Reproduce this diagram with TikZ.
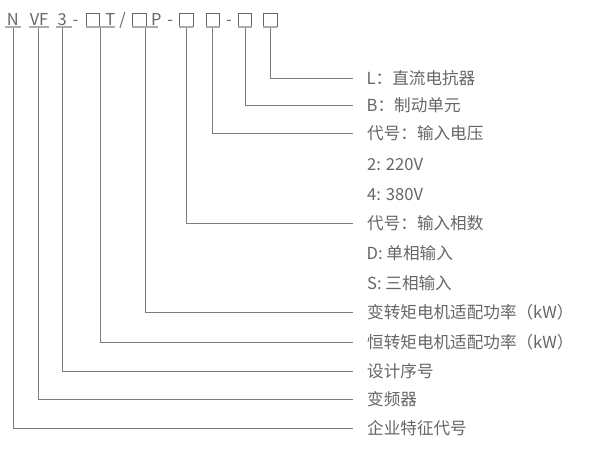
\documentclass[tikz,border=0pt]{standalone}
\usepackage{fontspec}
\setmainfont{Noto Sans CJK SC}
\definecolor{txt}{HTML}{666666}
\definecolor{ln}{HTML}{7C7C7C}
\definecolor{ul}{HTML}{ABABAB}
\begin{document}
\begin{tikzpicture}[x=1pt,y=-1pt,
  lbl/.style={font=\fontsize{16.6}{16.6}\selectfont, text=txt, inner sep=0pt, anchor=base west},
  code/.style={font=\fontsize{16.4}{16.4}\selectfont, text=txt, inner sep=0pt, anchor=base},
  sq/.style={draw=txt, line width=0.8pt, inner sep=0pt, minimum width=13.5pt, minimum height=13pt},
  uline/.style={draw=ul, line width=1.8pt},
  conn/.style={draw=ln, line width=1pt}]
\useasboundingbox (0,0) rectangle (599,455);
% code row
\node[code] (cN) at (12.8,25.7) {N};
\node[code] (cVF) at (39,25.7) {VF};
\node[code] (c3) at (62.3,25.7) {3};
\node[code] (d1) at (75.5,25.7) {-};
\node[sq] (b1) at (92.8,20) {};
\node[code] (cT) at (110.3,25.7) {T};
\node[code] (sl) at (122.5,25.7) {/};
\node[sq] (b2) at (139.4,20) {};
\node[code] (cP) at (156.3,25.7) {P};
\node[code] (d2) at (170.3,25.7) {-};
\node[sq] (b3) at (186.3,20) {};
\node[sq] (b4) at (212.8,20) {};
\node[code] (d3) at (229,25.7) {-};
\node[sq] (b5) at (245,20) {};
\node[sq] (b6) at (270.3,20) {};
% underlines
\draw[uline] (5,27.3) -- (20.5,27.3);
\draw[uline] (29.3,27.3) -- (48.5,27.3);
\draw[uline] (56,27.3) -- (71.7,27.3);
\draw[uline] (86,27.3) -- (115,27.3);
\draw[uline] (132,27.3) -- (158,27.3);
\draw[uline] (179.3,27.3) -- (193.3,27.3);
\draw[uline] (206,27.3) -- (219.5,27.3);
\draw[uline] (238.3,27.3) -- (251.7,27.3);
\draw[uline] (263.3,27.3) -- (277.3,27.3);
% start coordinates
\coordinate (s1) at (13.3,28);
\coordinate (s2) at (38.5,28);
\coordinate (s3) at (62.7,28);
\coordinate (s4) at (100.3,28);
\coordinate (s5) at (145.7,28);
\coordinate (s6) at (186.5,28);
\coordinate (s7) at (212.8,28);
\coordinate (s8) at (245.3,28);
\coordinate (s9) at (270.5,28);
% end coordinates
\coordinate (e9) at (353,78.3);
\coordinate (e8) at (353,105.7);
\coordinate (e7) at (353,133.3);
\coordinate (e6) at (353,223.3);
\coordinate (e5) at (353,312.7);
\coordinate (e4) at (353,342.7);
\coordinate (e3) at (353,371.7);
\coordinate (e2) at (353,399);
\coordinate (e1) at (353,428.3);
\foreach \i in {1,...,9} {\draw[conn] (s\i) |- (e\i);}
% labels
\node[lbl] (tL) at (366.5,84.3) {L：直流电抗器};
\node[lbl] (tB) at (366.5,111.7) {B：制动单元};
\node[lbl] (tV) at (367,139.3) {代号：输入电压};
\node[lbl] (t2) at (367,170) {2: 220V};
\node[lbl] (t4) at (367,200) {4: 380V};
\node[lbl] (tX) at (367,229.3) {代号：输入相数};
\node[lbl] (tD) at (366.5,259.5) {D: 单相输入};
\node[lbl] (tS) at (367,289) {S: 三相输入};
\node[lbl] (tVT) at (367,318.7) {变转矩电机适配功率（kW）};
\node[lbl] (tCT) at (367,348.7) {恒转矩电机适配功率（kW）};
\node[lbl] (tSN) at (367,377.7) {设计序号};
\node[lbl] (tF) at (367,405) {变频器};
\node[lbl] (tE) at (367,434.3) {企业特征代号};
\end{tikzpicture}
\end{document}
